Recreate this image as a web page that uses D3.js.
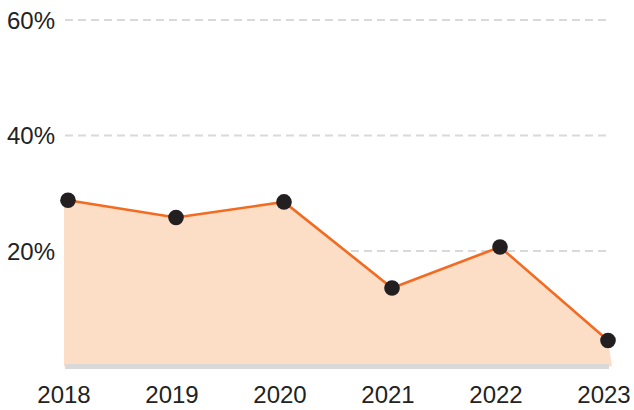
<!DOCTYPE html>
<html>
<head>
<meta charset="utf-8">
<script src="https://cdn.jsdelivr.net/npm/d3@7"></script>
<style>
  html, body { margin: 0; padding: 0; background: #fff; }
  svg { display: block; }
  text { font-family: "Liberation Sans", Arial, sans-serif; }
</style>
</head>
<body>
<svg id="chart" width="634" height="410"></svg>
<script>
const years = [2018, 2019, 2020, 2021, 2022, 2023];
const values = [28.8, 25.8, 28.5, 13.6, 20.7, 4.5];
const yTicks = [20, 40, 60];
const yTickLabels = ["20%", "40%", "60%"];

const svg = d3.select("#chart");
const x = d3.scaleLinear().domain([2018, 2023]).range([68, 608]);
const y = d3.scaleLinear().domain([0, 60]).range([366.5, 20]);

const data = years.map((yr, i) => ({ year: yr, value: values[i] }));

// gridlines
svg.append("g").selectAll("line").data(yTicks).join("line")
  .attr("x1", 65).attr("x2", 610)
  .attr("y1", d => y(d)).attr("y2", d => y(d))
  .attr("stroke", "#d9d9d9").attr("stroke-width", 2)
  .attr("stroke-dasharray", "8,5");

// y labels
svg.append("g").selectAll("text").data(yTicks).join("text")
  .attr("x", 7).attr("y", d => y(d) + 8.7)
  .attr("font-size", 24).attr("fill", "#222")
  .text((d, i) => yTickLabels[i]);

// area
const first = data[0], last = data[data.length - 1];
const poly = [
  [x(first.year) - 4, y(0)],
  [x(first.year) - 4, y(first.value)],
  ...data.map(d => [x(d.year), y(d.value)]),
  [x(last.year) + 4, y(0)]
];
svg.append("path")
  .attr("d", d3.line()(poly) + "Z")
  .attr("fill", "#fcddc6");

// baseline
svg.append("rect")
  .attr("x", 65).attr("y", y(0) - 2.5)
  .attr("width", 544).attr("height", 5)
  .attr("fill", "#d9d9d9");

// line
svg.append("path")
  .datum(data)
  .attr("d", d3.line().x(d => x(d.year)).y(d => y(d.value)))
  .attr("fill", "none").attr("stroke", "#f26b21").attr("stroke-width", 2.6);

// points
svg.append("g").selectAll("circle").data(data).join("circle")
  .attr("cx", d => x(d.year)).attr("cy", d => y(d.value))
  .attr("r", 7.8).attr("fill", "#231f20");

// x labels
svg.append("g").selectAll("text").data(years).join("text")
  .attr("x", d => x(d) - 4).attr("y", 402.5)
  .attr("text-anchor", "middle")
  .attr("font-size", 24).attr("fill", "#222")
  .text(d => d);
</script>
</body>
</html>
